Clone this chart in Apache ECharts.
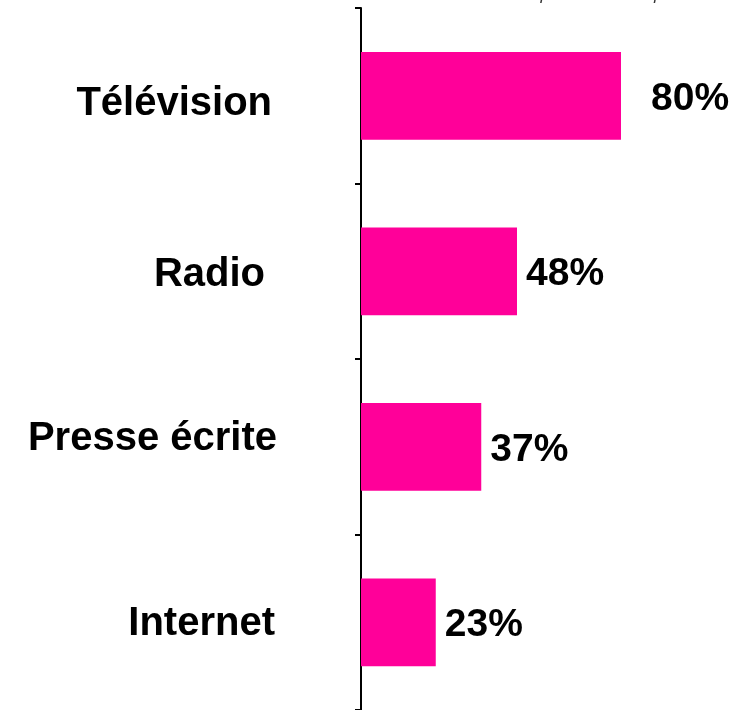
<!DOCTYPE html>
<html>
<head>
<meta charset="utf-8">
<script src="https://cdn.jsdelivr.net/npm/echarts@6/dist/echarts.min.js"></script>
<style>
html,body{margin:0;padding:0;background:#fff;}
#c{width:734px;height:710px;}
</style>
</head>
<body>
<div id="c"></div>
<script>
const categories = ['Télévision', 'Radio', 'Presse écrite', 'Internet'];
const values = [80, 48, 37, 23];
const noteText = '% du total répondu à cette question';

const catPadding = [[16, 5, 0, 0], [8, 12, 0, 0], [0, 0, 16, 0], [4, 2, 0, 0]];
const labelDist = [30, 9, 9, 9];

const rich = {};
catPadding.forEach((p, i) => {
  rich['c' + i] = {
    padding: p,
    color: '#000',
    fontFamily: 'Liberation Sans, Arial, sans-serif',
    fontWeight: 'bold',
    fontSize: 40
  };
});

const chart = echarts.init(document.getElementById('c'));
chart.setOption({
  animation: false,
  backgroundColor: '#ffffff',
  grid: { left: 361, top: 8, width: 325, height: 704, containLabel: false },
  xAxis: { type: 'value', min: 0, max: 100, show: false },
  yAxis: {
    type: 'category',
    data: categories,
    inverse: true,
    axisLine: { show: true, lineStyle: { color: '#000', width: 2 } },
    axisTick: { show: true, inside: false, length: 6, lineStyle: { color: '#000', width: 2 } },
    axisLabel: {
      margin: 84,
      color: '#000',
      fontFamily: 'Liberation Sans, Arial, sans-serif',
      fontWeight: 'bold',
      fontSize: 40,
      formatter: (v, i) => '{c' + i + '|' + v + '}',
      rich: rich
    }
  },
  series: [{
    type: 'bar',
    barWidth: '50%',
    data: values.map((v, i) => ({
      value: v,
      label: { distance: labelDist[i] }
    })),
    itemStyle: { color: '#FF0099' },
    label: {
      show: true,
      position: 'right',
      formatter: '{c}%',
      offset: [0, 3],
      color: '#000',
      fontFamily: 'Liberation Sans, Arial, sans-serif',
      fontWeight: 'bold',
      fontSize: 39
    }
  }],
  graphic: [{
    type: 'text',
    left: 445,
    top: -13,
    style: {
      text: noteText,
      fill: '#333',
      font: 'italic 17px Liberation Sans, Arial, sans-serif'
    }
  }]
});
</script>
</body>
</html>
